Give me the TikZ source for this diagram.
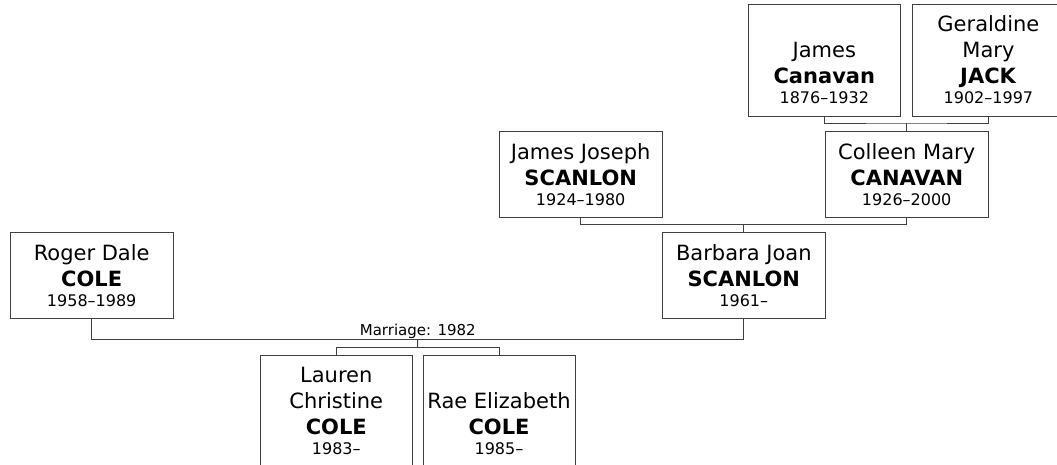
\documentclass[tikz,border=0pt]{standalone}
\usepackage{fontspec}
\setmainfont{DejaVu Sans}
\usetikzlibrary{calc}
\newcommand{\lifespan}[1]{{\fontsize{16}{20}\selectfont #1}}

\begin{document}
\begin{tikzpicture}[x=1pt, y=-1pt,
  person/.style={draw=black!75, fill=white, line width=1pt, align=center,
    inner sep=0pt, minimum width=163pt, minimum height=86pt,
    font=\fontsize{21}{26}\selectfont},
  tallperson/.style={person, minimum width=152pt, minimum height=112pt},
  link/.style={draw=black!75, line width=1pt},
]
  \clip (0,0) rectangle (1057,464);

  % grandparents
  \node[tallperson] (jcanavan) at (824.3, 60)
    {\vphantom{l}\\James\\\textbf{Canavan}\\[-6pt]\lifespan{1876--1932}};
  \node[tallperson] (gjack) at (988.4, 60)
    {Geraldine\\Mary\\\textbf{JACK}\\[-6pt]\lifespan{1902--1997}};

  % parents
  \node[person] (jjoseph) at (580.7, 174.5)
    {James Joseph\\\textbf{SCANLON}\\[-6pt]\lifespan{1924--1980}};
  \node[person] (colleen) at (906.7, 174.5)
    {Colleen Mary\\\textbf{CANAVAN}\\[-6pt]\lifespan{1926--2000}};

  % couple
  \node[person] (roger) at (91.7, 275.7)
    {Roger Dale\\\textbf{COLE}\\[-6pt]\lifespan{1958--1989}};
  \node[person] (barbara) at (743.8, 275.7)
    {Barbara Joan\\\textbf{SCANLON}\\[-6pt]\lifespan{1961--}};

  % children
  \node[tallperson] (lauren) at (336.3, 411)
    {Lauren\\Christine\\\textbf{COLE}\\[-6pt]\lifespan{1983--}};
  \node[tallperson] (rae) at (499, 411)
    {\vphantom{l}\\Rae Elizabeth\\\textbf{COLE}\\[-6pt]\lifespan{1985--}};

  % family lines
  \coordinate (gpbus) at ($(colleen.north)+(0,-8)$);
  \draw[link] (jcanavan.south) |- (gpbus) -| (gjack.south);
  \draw[link] (gpbus) -- (colleen.north);

  \coordinate (pbus) at ($(barbara.north)+(0,-8)$);
  \draw[link] (jjoseph.south) |- (pbus) -| (colleen.south);
  \draw[link] (pbus) -- (barbara.north);

  \coordinate (mbus) at ($(roger.south)!0.5!(barbara.south)+(0,20)$);
  \draw[link] (roger.south) |- (mbus) -| (barbara.south);
  \node[font=\fontsize{15}{18}\selectfont, anchor=base] (mlabel)
    at ($(mbus)+(0,-3.5)$) {Marriage: 1982};

  \coordinate (cbus) at ($(lauren.north)!0.5!(rae.north)+(0,-7)$);
  \draw[link] (mbus) -- (cbus);
  \draw[link] (lauren.north) |- (cbus) -| (rae.north);
\end{tikzpicture}
\end{document}
